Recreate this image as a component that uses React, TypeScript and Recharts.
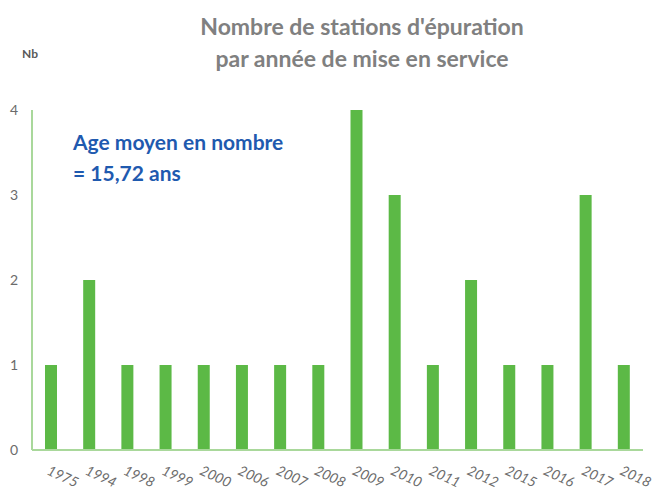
import { Bar, BarChart, XAxis, YAxis } from "recharts";

const years = ["1975", "1994", "1998", "1999", "2000", "2006", "2007", "2008", "2009", "2010", "2011", "2012", "2015", "2016", "2017", "2018"];
const counts = [1, 2, 1, 1, 1, 1, 1, 1, 4, 3, 1, 2, 1, 1, 3, 1];
const yTicks = [0, 1, 2, 3, 4];

const titleLines = ["Nombre de stations d'épuration", "par année de mise en service"];
const noteLines = ["Age moyen en nombre", "= 15,72 ans"];

const data = years.map((year, i) => ({ year, count: counts[i] }));

const FONT = "Lato, 'Open Sans', sans-serif";

function YearTick({ x, y, payload }: any) {
  const tx = x - 5;
  const ty = y + 16;
  return (
    <text
      x={tx}
      y={ty}
      transform={`rotate(25 ${tx} ${ty})`}
      textAnchor="start"
      fill="#6b6b6b"
      fontSize={14}
      fontStyle="italic"
      fontFamily={FONT}
    >
      {payload.value}
    </text>
  );
}

export default function App() {
  return (
    <div style={{ position: "absolute", left: 0, top: 0, width: 655, height: 493, background: "#fff", fontFamily: FONT }}>
      <div
        style={{
          position: "absolute",
          left: 0,
          width: 724,
          top: 10,
          textAlign: "center",
          color: "#808080",
          fontWeight: 700,
          fontSize: 23,
          lineHeight: "32px",
        }}
      >
        {titleLines.map((t) => (
          <div key={t}>{t}</div>
        ))}
      </div>
      <div style={{ position: "absolute", left: 22, top: 46, color: "#595959", fontWeight: 700, fontSize: 12 }}>Nb</div>
      <div
        style={{
          position: "absolute",
          left: 73,
          top: 126,
          color: "#1F5AAF",
          fontWeight: 700,
          fontSize: 21,
          lineHeight: "31px",
        }}
      >
        {noteLines.map((t) => (
          <div key={t}>{t}</div>
        ))}
      </div>
      <BarChart width={655} height={493} data={data} margin={{ top: 110, right: 12, left: 0, bottom: 0 }}>
        <XAxis
          dataKey="year"
          axisLine={{ stroke: "#A9D89B", strokeWidth: 2 }}
          tickLine={false}
          interval={0}
          height={43}
          tick={<YearTick />}
        />
        <YAxis
          domain={[0, 4]}
          ticks={yTicks}
          width={32}
          axisLine={{ stroke: "#A9D89B", strokeWidth: 2 }}
          tickLine={false}
          tickSize={0}
          tickMargin={14}
          tick={{ fill: "#6b6b6b", fontSize: 14, fontFamily: FONT }}
        />
        <Bar dataKey="count" fill="#5CB946" barSize={12} isAnimationActive={false} />
      </BarChart>
    </div>
  );
}
